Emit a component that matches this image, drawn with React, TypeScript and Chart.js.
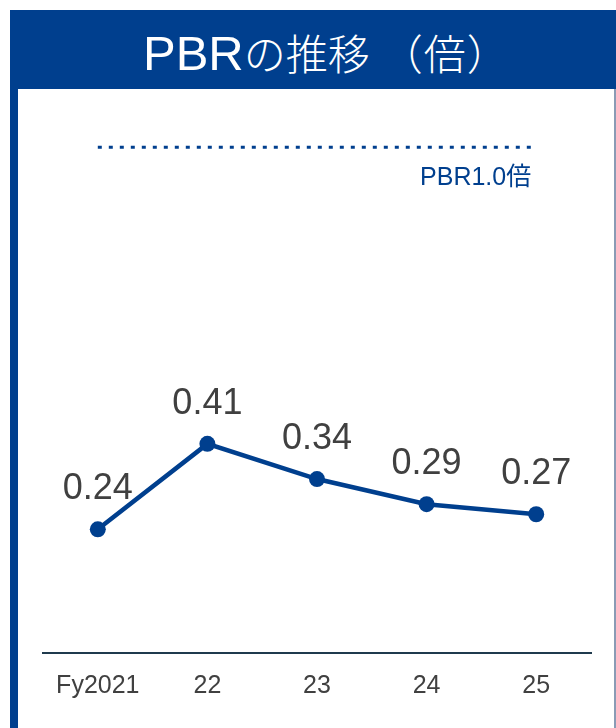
import React, { useEffect, useRef } from "react";
import { Chart, registerables } from "chart.js";

Chart.register(...registerables);

const categories = ["Fy2021", "22", "23", "24", "25"];
const pbrValues = [0.24, 0.41, 0.34, 0.29, 0.27];
const referenceValues = [1.0, 1.0, 1.0, 1.0, 1.0];
const referenceLabel = "PBR1.0倍";
const titleLatin = "PBR";
const titleCJK = "の推移";
const titleUnit = "（倍）";

const BLUE = "#003F8E";
const GRAY_TEXT = "#404040";
const LATIN = '"Liberation Sans", Arial, sans-serif';

const labelPlugin = {
  id: "valueLabels",
  afterDatasetsDraw(chart: any) {
    const ctx = chart.ctx;
    const meta = chart.getDatasetMeta(1);
    ctx.save();
    ctx.font = "36px " + LATIN;
    ctx.fillStyle = GRAY_TEXT;
    ctx.textAlign = "center";
    ctx.textBaseline = "middle";
    meta.data.forEach((pt: any, i: number) => {
      ctx.fillText(pbrValues[i].toFixed(2), pt.x, pt.y - 40);
    });
    const refMeta = chart.getDatasetMeta(0);
    const last = refMeta.data[refMeta.data.length - 1];
    ctx.font = '25px "Liberation Sans", Arial, "Noto Sans CJK JP", sans-serif';
    ctx.fillStyle = BLUE;
    ctx.textAlign = "right";
    ctx.fillText(referenceLabel, last.x - 5, last.y + 31);
    ctx.restore();
  },
};

export default function App() {
  const ref = useRef<HTMLCanvasElement>(null);

  useEffect(() => {
    if (!ref.current) return;
    const chart = new Chart(ref.current, {
      type: "line",
      data: {
        labels: categories,
        datasets: [
          {
            label: referenceLabel,
            data: referenceValues,
            borderColor: BLUE,
            borderWidth: 3,
            borderDash: [4, 7],
            pointRadius: 0,
            fill: false,
          },
          {
            label: "PBR",
            data: pbrValues,
            borderColor: BLUE,
            backgroundColor: BLUE,
            borderWidth: 4.5,
            pointRadius: 8,
            pointHoverRadius: 8,
            pointBackgroundColor: BLUE,
            pointBorderWidth: 0,
            fill: false,
          },
        ],
      },
      options: {
        animation: false,
        responsive: false,
        maintainAspectRatio: false,
        layout: { padding: { left: 26, right: 25, top: 3, bottom: 9 } },
        plugins: {
          legend: { display: false },
          title: { display: false },
          tooltip: { enabled: false },
        },
        scales: {
          x: {
            offset: true,
            grid: { display: false, drawTicks: false },
            border: { display: true, color: "#1F3A4D", width: 2 },
            ticks: {
              color: GRAY_TEXT,
              padding: 18,
              font: { size: 25, family: LATIN },
            },
          },
          y: {
            display: false,
            min: -0.006,
            max: 1.1,
          },
        },
      },
      plugins: [labelPlugin],
    });
    return () => chart.destroy();
  }, []);

  return (
    <div
      style={{
        position: "fixed",
        left: 0,
        top: 0,
        width: 616,
        height: 728,
        background: "#fff",
        overflow: "hidden",
      }}
    >
      <div
        style={{
          position: "absolute",
          left: 10,
          top: 10,
          width: 606,
          height: 79,
          background: BLUE,
        }}
      />
      <div
        style={{
          position: "absolute",
          left: 143,
          top: 29,
          color: "#fff",
          whiteSpace: "nowrap",
          fontFamily: LATIN,
          fontSize: 49,
          lineHeight: 1,
        }}
      >
        <span>{titleLatin}</span>
        <span style={{ fontFamily: '"Noto Sans CJK JP", sans-serif', fontSize: 42, fontWeight: 300 }}>
          {titleCJK}
        </span>
        <span
          style={{
            fontFamily: '"Noto Sans CJK JP", sans-serif',
            fontSize: 42,
            fontWeight: 300,
            marginLeft: 11,
            letterSpacing: 1,
          }}
        >
          {titleUnit}
        </span>
      </div>
      <div
        style={{
          position: "absolute",
          left: 10,
          top: 89,
          width: 8,
          height: 639,
          background: BLUE,
        }}
      />
      <div
        style={{
          position: "absolute",
          left: 614,
          top: 89,
          width: 2,
          height: 639,
          background: "#8A9BB5",
        }}
      />
      <canvas
        ref={ref}
        width={599}
        height={639}
        style={{ position: "absolute", left: 17, top: 89, width: 599, height: 639 }}
      />
    </div>
  );
}
